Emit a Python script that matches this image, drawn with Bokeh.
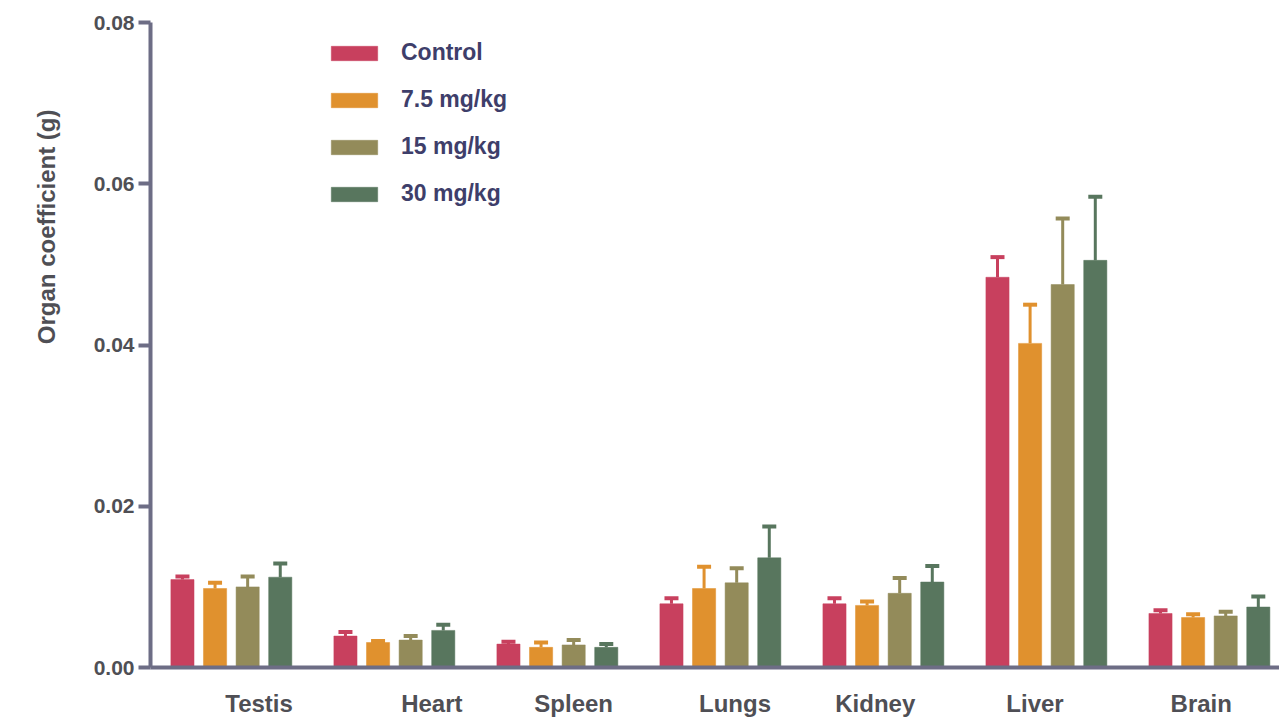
import numpy as np
from bokeh.plotting import figure
from bokeh.models import (ColumnDataSource, Range1d, FixedTicker, PrintfTickFormatter,
                          Whisker, TeeHead, Legend, LegendItem, Title)
from bokeh.embed import file_html
from bokeh.resources import INLINE

organs = ["Testis", "Heart", "Spleen", "Lungs", "Kidney", "Liver", "Brain"]
groups = ["Control", "7.5 mg/kg", "15 mg/kg", "30 mg/kg"]

control = [0.0109, 0.0039, 0.0029, 0.0079, 0.0079, 0.0484, 0.0067]
control_err = [0.0004, 0.0005, 0.0003, 0.0007, 0.0007, 0.0025, 0.0004]
dose_7_5 = [0.0098, 0.0031, 0.0025, 0.0098, 0.0077, 0.0402, 0.0062]
dose_7_5_err = [0.0007, 0.0002, 0.0006, 0.0027, 0.0005, 0.0048, 0.0004]
dose_15 = [0.0100, 0.0034, 0.0028, 0.0105, 0.0092, 0.0475, 0.0064]
dose_15_err = [0.0013, 0.0005, 0.0006, 0.0018, 0.0019, 0.0082, 0.0005]
dose_30 = [0.0112, 0.0046, 0.0025, 0.0136, 0.0106, 0.0505, 0.0075]
dose_30_err = [0.0017, 0.0007, 0.0004, 0.0039, 0.0020, 0.0079, 0.0013]

y_ticks = [0.0, 0.02, 0.04, 0.06, 0.08]

series = [control, dose_7_5, dose_15, dose_30]
errors = [control_err, dose_7_5_err, dose_15_err, dose_30_err]
colors = ["#C8405E", "#E0912E", "#938B5A", "#58765E"]
offsets = [-0.3, -0.1, 0.1, 0.3]
# the category labels in the original sit slightly off the group centres
label_nudge = [0.17, 0.23, 0.10, 0.09, -0.05, -0.07, -0.05]

AXIS = "#6D6D85"
TICK_TXT = "#4F4F55"
FONT = "Liberation Sans"

p = figure(width=1279, height=719, output_backend="svg", toolbar_location=None,
           x_range=Range1d(-0.496, 6.43), y_range=Range1d(0, 0.08))
p.min_border_left = 150
p.min_border_right = 0
p.min_border_top = 22
p.min_border_bottom = 52
p.outline_line_color = None
p.xgrid.visible = False
p.ygrid.visible = False
p.background_fill_color = "white"
p.border_fill_color = "white"

idx = np.arange(len(organs))
renderers = []
for vals, errs, col, off in zip(series, errors, colors, offsets):
    v = np.array(vals)
    e = np.array(errs)
    src = ColumnDataSource(dict(x=idx + off, top=v, upper=v + e))
    w = Whisker(base="x", lower="top", upper="upper", source=src, dimension="height",
                line_color=col, line_width=3,
                upper_head=TeeHead(size=14, line_color=col, line_width=4),
                lower_head=TeeHead(size=0, line_alpha=0))
    p.add_layout(w)
    r = p.vbar(x="x", top="top", width=0.142, source=src, fill_color=col,
               line_color=col, line_width=0.5)
    renderers.append(r)

# y axis
ya = p.yaxis[0]
ya.ticker = FixedTicker(ticks=y_ticks)
ya.formatter = PrintfTickFormatter(format="%.2f")
ya.axis_line_color = AXIS
ya.axis_line_width = 4
ya.major_tick_line_color = AXIS
ya.major_tick_line_width = 4
ya.major_tick_out = 12
ya.major_tick_in = 0
ya.minor_tick_line_color = None
ya.major_label_text_font = FONT
ya.major_label_text_font_style = "bold"
ya.major_label_text_font_size = "21px"
ya.major_label_text_color = TICK_TXT
ya.major_label_standoff = 4

# x axis
tick_pos = [round(float(i) + n, 2) for i, n in zip(idx, label_nudge)]
xa = p.xaxis[0]
xa.ticker = FixedTicker(ticks=tick_pos)
xa.major_label_overrides = {t: o for t, o in zip(tick_pos, organs)}
xa.axis_line_color = AXIS
xa.axis_line_width = 4
xa.major_tick_line_color = None
xa.minor_tick_line_color = None
xa.major_label_text_font = FONT
xa.major_label_text_font_style = "bold"
xa.major_label_text_font_size = "24px"
xa.major_label_text_color = TICK_TXT
xa.major_label_standoff = 16

# y axis title (sits above the frame centre in the original)
ytitle = Title(text="Organ coefficient (g)", align="right", offset=87,
               standoff=61,
               text_font=FONT, text_font_style="bold", text_font_size="24px",
               text_color=TICK_TXT)
p.add_layout(ytitle, "left")

items = [LegendItem(label=g, renderers=[r]) for g, r in zip(groups, renderers)]
legend = Legend(items=items, location=(175, 460), padding=0, margin=0,
                glyph_width=58, glyph_height=18, label_standoff=18,
                label_height=25, spacing=20,
                label_text_font=FONT, label_text_font_style="bold",
                label_text_font_size="23px", label_text_color="#3E3E6A",
                border_line_color=None, background_fill_alpha=0)
p.add_layout(legend, "center")

open("out.html", "w").write(file_html(p, INLINE))
